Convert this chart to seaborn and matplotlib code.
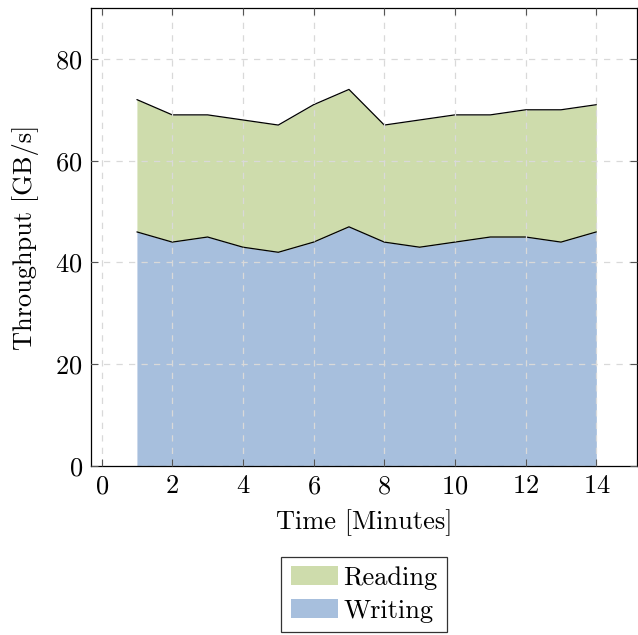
import numpy as np
import pandas as pd
import matplotlib
matplotlib.use("Agg")
import matplotlib.pyplot as plt
import seaborn as sns
from matplotlib.patches import Patch

minutes = [1, 2, 3, 4, 5, 6, 7, 8, 9, 10, 11, 12, 13, 14]
writing = [46, 44, 45, 43, 42, 44, 47, 44, 43, 44, 45, 45, 44, 46]
reading = [26, 25, 24, 25, 25, 27, 27, 23, 25, 25, 24, 25, 26, 25]

READ_COLOR = "#cedcac"
WRITE_COLOR = "#a7bfdd"

sns.set_theme(style="white")
plt.rcParams["font.family"] = ["cmr10", "DejaVu Serif"]
plt.rcParams["mathtext.fontset"] = "cm"
plt.rcParams["axes.formatter.use_mathtext"] = True
plt.rcParams["text.color"] = "black"
plt.rcParams["axes.labelcolor"] = "black"
plt.rcParams["xtick.labelcolor"] = "black"
plt.rcParams["ytick.labelcolor"] = "black"

df = pd.DataFrame({"minute": minutes, "writing": writing, "reading": reading})
df["total"] = df["writing"] + df["reading"]

fig = plt.figure(figsize=(6.38, 6.35), dpi=100)
ax = fig.add_axes([0.1426, 0.2661, 0.8558, 0.7213])

# stacked fills, then the black edge lines on top of each layer
ax.stackplot(df["minute"], df["writing"], df["reading"],
             colors=[WRITE_COLOR, READ_COLOR], linewidth=0)
sns.lineplot(data=df, x="minute", y="writing", color="black", linewidth=0.9, ax=ax)
sns.lineplot(data=df, x="minute", y="total", color="black", linewidth=0.9, ax=ax)

ax.set_xlim(-0.3, 15.15)
ax.set_ylim(0, 90)
ax.set_xticks(range(0, 15, 2))
ax.set_yticks(range(0, 81, 20))
ax.grid(True, linestyle=(0, (5, 5)), color="#d9d9d9", linewidth=0.9)
ax.set_axisbelow(False)
for line in ax.get_xgridlines() + ax.get_ygridlines():
    line.set_zorder(3)

ax.tick_params(direction="in", length=5, width=0.8, color="#555555",
               top=True, right=True, bottom=True, left=True,
               labelsize=19, pad=6)
for s in ax.spines.values():
    s.set_color("black")
    s.set_linewidth(0.9)

ax.set_xlabel("Time [Minutes]", fontsize=19, labelpad=8)
ax.set_ylabel("Throughput [GB/s]", fontsize=19, labelpad=12)

handles = [Patch(facecolor=READ_COLOR, edgecolor="none", label="Reading"),
           Patch(facecolor=WRITE_COLOR, edgecolor="none", label="Writing")]
leg = ax.legend(handles=handles, loc="upper center", bbox_to_anchor=(0.5, -0.198),
                fontsize=19, frameon=True, fancybox=False, handlelength=1.8,
                handleheight=0.75, handletextpad=0.2, borderpad=0.35, labelspacing=0.35,
                borderaxespad=0)
leg.get_frame().set_edgecolor("black")
leg.get_frame().set_linewidth(0.9)

fig.savefig("out.png", dpi=100)
